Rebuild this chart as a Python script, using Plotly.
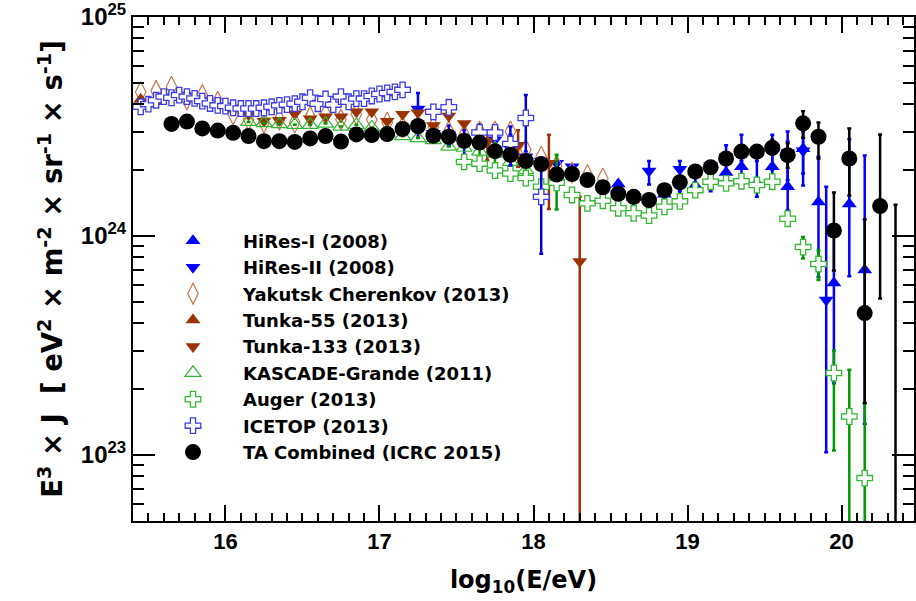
import math
import plotly.graph_objects as go

# ---------------- data ----------------
hires1_x = [18.55, 18.65, 18.75, 18.85, 18.95, 19.05, 19.15, 19.25, 19.35, 19.45, 19.55, 19.65, 19.75, 19.85, 19.95, 20.05, 20.15]
hires1_y = [1.73e24, 1.50e24, 1.45e24, 1.55e24, 1.45e24, 1.70e24, 1.79e24, 1.95e24, 2.07e24, 1.74e24, 2.07e24, 1.68e24, 2.50e24, 1.43e24, 6.1e23, 1.40e24, 7.0e23]
hires1_lo = [None, None, None, None, 1.35e24, 1.60e24, 1.60e24, 1.80e24, 1.85e24, 1.51e24, 1.80e24, 1.31e24, 1.93e24, 6.5e23, 2.13e23, 6.55e23, 1.39e23]
hires1_hi = [None, None, None, None, 1.60e24, 1.85e24, 2.00e24, 2.15e24, 2.35e24, 2.20e24, 2.40e24, 2.70e24, 3.00e24, 2.30e24, 1.0e24, 2.77e24, 2.33e24]

hires2_x = [17.25, 17.35, 17.45, 17.55, 17.65, 17.75, 17.85, 17.95, 18.05, 18.15, 18.25, 18.35, 18.45, 18.55, 18.65, 18.75, 18.85, 18.95, 19.05, 19.15, 19.25, 19.35, 19.45, 19.55, 19.65, 19.75, 19.90]
hires2_y = [3.8e24, 2.95e24, 2.9e24, 2.65e24, 2.95e24, 2.75e24, 2.5e24, 2.3e24, 2.2e24, 2.15e24, 2.07e24, 1.8e24, 1.62e24, 1.5e24, 1.47e24, 1.98e24, 1.55e24, 2.02e24, 1.95e24, 2.1e24, 2.3e24, 2.4e24, 2.35e24, 2.45e24, 2.4e24, 2.45e24, 5.1e23]
hires2_lo = [2.85e24, None, 2.6e24, 2.2e24, 2.6e24, 2.3e24, 2.1e24, None, None, None, None, None, None, None, None, 1.72e24, None, 1.85e24, None, None, 2.0e24, 2.2e24, None, 2.0e24, 1.8e24, 1.7e24, 1.03e23]
hires2_hi = [4.5e24, None, 3.2e24, 3.05e24, 3.25e24, 3.2e24, 2.9e24, None, None, None, None, None, None, None, None, 2.2e24, None, 2.2e24, None, None, 2.6e24, 2.9e24, None, 2.9e24, 3.0e24, 3.3e24, 1.68e24]

yak_x = [15.45, 15.55, 15.65, 15.75, 15.85, 15.95, 16.05, 16.15, 16.25, 16.35, 16.45, 16.55, 16.65, 16.75, 16.85, 16.95, 17.05, 17.15, 17.25, 17.35, 17.45, 17.55, 17.65, 17.75, 17.85, 17.95, 18.05, 18.15, 18.25, 18.35, 18.45]
yak_y = [4.55e24, 4.6e24, 4.8e24, 4.2e24, 4.4e24, 4.1e24, 3.6e24, 3.4e24, 3.3e24, 3.4e24, 3.3e24, 3.5e24, 3.6e24, 3.4e24, 3.6e24, 3.4e24, 3.3e24, 3.15e24, 3.1e24, 3.15e24, 3.0e24, 2.9e24, 3.0e24, 3.0e24, 3.0e24, 2.48e24, 2.3e24, 2.1e24, 1.95e24, 1.9e24, 1.83e24]

t55_x = [15.45, 15.55, 15.65, 15.75, 15.85, 15.95, 16.05]
t55_y = [4.2e24, 4.1e24, 4.3e24, 4.45e24, 4.2e24, 4.0e24, 3.8e24]

t133_x = [16.15, 16.25, 16.35, 16.45, 16.55, 16.65, 16.75, 16.85, 16.95, 17.05, 17.15, 17.25, 17.35, 17.45, 17.55, 17.7, 17.9, 18.1, 18.3]
t133_y = [3.58e24, 3.35e24, 3.38e24, 3.62e24, 3.43e24, 3.5e24, 3.5e24, 3.69e24, 3.69e24, 3.34e24, 3.6e24, 3.65e24, 3.2e24, 3.53e24, 3.26e24, 2.7e24, 2.6e24, 2.15e24, 7.65e23]
t133_lo = [None] * 15 + [2.22e24, 2.07e24, 1.33e24, 1e22]
t133_hi = [None] * 15 + [2.98e24, 3.04e24, 2.9e24, 1.51e24]

kg_x = [16.15, 16.25, 16.35, 16.45, 16.55, 16.65, 16.75, 16.85, 16.95, 17.05, 17.15, 17.25, 17.35, 17.45, 17.55, 17.65, 17.75, 17.85, 17.95, 18.15]
kg_y = [3.32e24, 3.28e24, 3.24e24, 3.22e24, 3.22e24, 3.26e24, 3.16e24, 3.22e24, 3.13e24, 2.96e24, 2.86e24, 2.8e24, 2.74e24, 2.56e24, 2.53e24, 2.43e24, 2.38e24, 2.18e24, 2.0e24, 1.87e24]
kg_lo = [None] * 15 + [2.2e24, 2.1e24, 1.95e24, 1.8e24, 1.32e24]
kg_hi = [None] * 15 + [2.7e24, 2.65e24, 2.45e24, 2.25e24, 2.35e24]

auger_x = [17.55, 17.65, 17.75, 17.85, 17.95, 18.05, 18.15, 18.25, 18.35, 18.45, 18.55, 18.65, 18.75, 18.85, 18.95, 19.05, 19.15, 19.25, 19.35, 19.45, 19.55, 19.65, 19.75, 19.85, 19.95, 20.05, 20.15]
auger_y = [2.18e24, 2.14e24, 1.99e24, 1.93e24, 1.84e24, 1.68e24, 1.75e24, 1.54e24, 1.41e24, 1.45e24, 1.34e24, 1.27e24, 1.24e24, 1.36e24, 1.44e24, 1.62e24, 1.77e24, 1.74e24, 1.78e24, 1.71e24, 1.77e24, 1.20e24, 8.9e23, 7.45e23, 2.37e23, 1.5e23, 7.85e22]
auger_lo = [None] * 21 + [1.12e24, 7.9e23, 6.3e23, 1.05e23, 1e22, 1e22]
auger_hi = [None] * 21 + [1.28e24, 9.9e23, 8.6e23, 3.0e23, 2.45e23, 1.72e23]

icetop_x = [15.45, 15.50, 15.55, 15.60, 15.65, 15.70, 15.75, 15.80, 15.85, 15.90, 15.95, 16.00, 16.05, 16.10, 16.15, 16.20, 16.25, 16.30, 16.35, 16.40, 16.45, 16.50, 16.55, 16.60, 16.65, 16.70, 16.75, 16.80, 16.85, 16.90, 16.95, 17.00, 17.05, 17.10, 17.15, 17.35, 17.45, 17.65, 17.75, 17.85, 17.95, 18.05]
icetop_y = [3.89e24, 4.0e24, 4.17e24, 4.33e24, 4.28e24, 4.4e24, 4.33e24, 4.25e24, 4.13e24, 4.03e24, 3.95e24, 3.92e24, 3.85e24, 3.82e24, 3.82e24, 3.82e24, 3.85e24, 3.89e24, 3.95e24, 3.98e24, 4.02e24, 4.1e24, 4.28e24, 4.02e24, 4.22e24, 3.98e24, 4.33e24, 4.1e24, 4.24e24, 4.24e24, 4.36e24, 4.45e24, 4.5e24, 4.55e24, 4.65e24, 3.69e24, 3.87e24, 2.97e24, 2.97e24, 2.63e24, 3.46e24, 1.51e24]
icetop_lo = [None] * 39 + [2.1e24, 2.43e24, 8.3e23]
icetop_hi = [None] * 39 + [3.16e24, 4.4e24, 2.27e24]

ta_x = [15.65, 15.75, 15.85, 15.95, 16.05, 16.15, 16.25, 16.35, 16.45, 16.55, 16.65, 16.75, 16.85, 16.95, 17.05, 17.15, 17.25, 17.35, 17.45, 17.55, 17.65, 17.75, 17.85, 17.95, 18.05, 18.15, 18.25, 18.35, 18.45, 18.55, 18.65, 18.75, 18.85, 18.95, 19.05, 19.15, 19.25, 19.35, 19.45, 19.55, 19.65, 19.75, 19.85, 19.95, 20.05, 20.15, 20.25, 20.35]
ta_y = [3.25e24, 3.33e24, 3.10e24, 3.03e24, 2.96e24, 2.86e24, 2.71e24, 2.71e24, 2.69e24, 2.79e24, 2.86e24, 2.70e24, 2.91e24, 2.89e24, 2.92e24, 3.08e24, 3.18e24, 2.87e24, 2.84e24, 2.72e24, 2.67e24, 2.44e24, 2.35e24, 2.20e24, 2.13e24, 1.91e24, 1.92e24, 1.80e24, 1.67e24, 1.56e24, 1.51e24, 1.46e24, 1.62e24, 1.76e24, 1.97e24, 2.06e24, 2.26e24, 2.43e24, 2.43e24, 2.53e24, 2.34e24, 3.27e24, 2.84e24, 1.06e24, 2.26e24, 4.45e23, 1.37e24, 2.0e22]
ta_lo = [None] * 37 + [2.3e24, 2.3e24, 2.35e24, 2.05e24, 2.81e24, 2.26e24, 6.96e23, 1.53e24, 1.73e23, 5.19e23, 1e22]
ta_hi = [None] * 37 + [2.6e24, 2.6e24, 2.75e24, 2.65e24, 3.71e24, 3.30e24, 1.58e24, 3.10e24, 1.19e24, 2.91e24, 1.39e24]

y_major = [1e23, 1e24, 1e25]
y_major_text = ["10<sup>23</sup>", "10<sup>24</sup>", "10<sup>25</sup>"]
x_major = [16, 17, 18, 19, 20]

FONT = "DejaVu Sans"
TICKFONT = "Liberation Sans"


def err(vals, lo, hi):
    up = [(h - v) if h is not None else 0.0 for v, h in zip(vals, hi)]
    dn = [(v - l) if l is not None else 0.0 for v, l in zip(vals, lo)]
    return up, dn


def ebar(vals, lo, hi, color):
    up, dn = err(vals, lo, hi)
    return dict(type="data", array=up, arrayminus=dn, symmetric=False,
                color=color, thickness=2.5, width=2)


fig = go.Figure()


def add(name, x, y, symbol, fill, line, size, lw=0, lo=None, hi=None, ecolor=None):
    kw = {}
    if lo is not None:
        kw["error_y"] = ebar(y, lo, hi, ecolor or line)
    fig.add_trace(go.Scatter(
        x=x, y=y, mode="markers", name=name, legendgroup=name,
        marker=dict(symbol=symbol, size=size, color=fill,
                    line=dict(color=line, width=lw)),
        **kw))


add("HiRes-I (2008)", hires1_x, hires1_y, "triangle-up", "#0000ff", "#0000ff", 13, 0, hires1_lo, hires1_hi)
add("HiRes-II (2008)", hires2_x, hires2_y, "triangle-down", "#0000ff", "#0000ff", 13, 0, hires2_lo, hires2_hi)
add("Yakutsk Cherenkov (2013)", yak_x, yak_y, "diamond-tall-open", "#c8784e", "#c8784e", 15, 1.2)
add("Tunka-55 (2013)", t55_x, t55_y, "triangle-up", "#993300", "#993300", 13, 0)
add("Tunka-133 (2013)", t133_x, t133_y, "triangle-down", "#993300", "#993300", 13, 0, t133_lo, t133_hi)
add("KASCADE-Grande (2011)", kg_x, kg_y, "triangle-up-open", "#33b833", "#33b833", 14, 1.2, kg_lo, kg_hi, "#009900")
add("Auger (2013)", auger_x, auger_y, "cross", "white", "#33b833", 13, 1.3, auger_lo, auger_hi, "#009900")
add("ICETOP (2013)", icetop_x, icetop_y, "cross", "white", "#3c3ce6", 13, 1.3, icetop_lo, icetop_hi, "#0000dd")
add("TA Combined (ICRC 2015)", ta_x, ta_y, "circle", "black", "black", 16, 0, ta_lo, ta_hi, "black")

minor_y = []
for e in [22, 23, 24]:
    for m in range(2, 10):
        minor_y.append(float(m) * 10.0 ** e)

fig.update_layout(
    width=916, height=601,
    margin=dict(l=133, r=0, t=15, b=80),
    paper_bgcolor="white", plot_bgcolor="white",
    font=dict(family=FONT, color="black", weight="bold"),
    showlegend=True,
    legend=dict(x=0.0128, y=0.592, xanchor="left", yanchor="top",
                bgcolor="rgba(0,0,0,0)", borderwidth=0,
                font=dict(family=FONT, size=18, color="black", weight="bold"),
                itemwidth=90, tracegroupgap=0.3, traceorder="normal"),
    xaxis=dict(
        range=[15.4, 20.47], tickmode="array", tickvals=x_major,
        ticks="inside", ticklen=16, tickwidth=2, tickcolor="black",
        showline=True, linewidth=2, linecolor="black", mirror="allticks",
        showgrid=False, zeroline=False,
        tickfont=dict(family=TICKFONT, size=22, color="black", weight="bold"),
        minor=dict(ticks="inside", ticklen=8, tickwidth=2, tickcolor="black",
                   dtick=0.1, tick0=0, showgrid=False),
        title=dict(text="log<sub>10</sub>(E/eV)",
                   font=dict(family=FONT, size=24, color="black", weight="bold"),
                   standoff=18),
    ),
    yaxis=dict(
        type="log", range=[math.log10(5e22), 25],
        tickmode="array", tickvals=y_major, ticktext=y_major_text,
        ticks="inside", ticklen=22, tickwidth=2, tickcolor="black",
        showline=True, linewidth=2, linecolor="black", mirror="allticks",
        showgrid=False, zeroline=False, ticklabeloverflow="allow",
        tickfont=dict(family=TICKFONT, size=24, color="black", weight="bold"),
        minor=dict(ticks="inside", ticklen=11, tickwidth=2, tickcolor="black",
                   tickmode="array", tickvals=minor_y, showgrid=False),
        title=dict(text="E<sup>3</sup> × J  [ eV<sup>2</sup> × m<sup>-2</sup> × sr<sup>-1</sup> × s<sup>-1</sup>]",
                   font=dict(family=FONT, size=27.5, color="black", weight="bold"),
                   standoff=10),
    ),
)

fig.write_html("out.html")
